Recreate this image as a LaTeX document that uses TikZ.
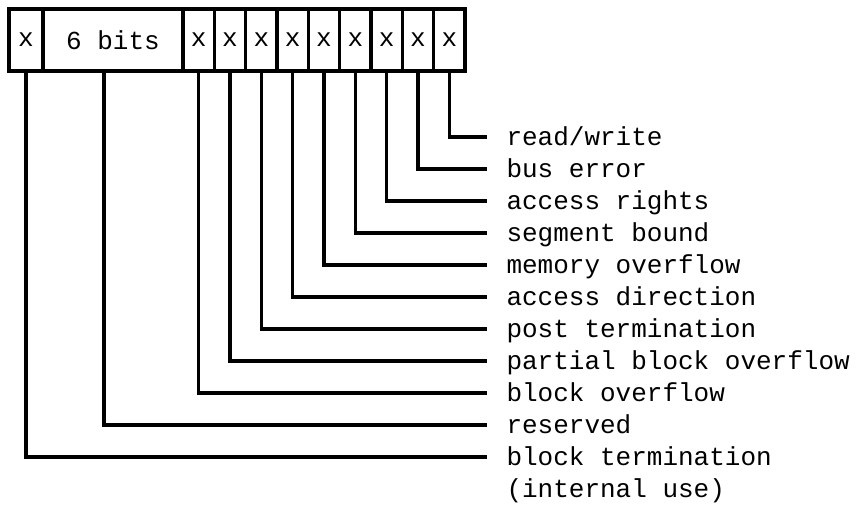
\documentclass[tikz,border=0pt]{standalone}
\usepackage{fontspec}
\setmonofont{Liberation Mono}
\begin{document}
\begin{tikzpicture}[x=0.75pt, y=-0.75pt, line width=2.3pt,
  font=\ttfamily\fontsize{19.5}{23}\selectfont,
  cell/.style={draw, line width=2.3pt, minimum height=46.5pt, inner sep=0pt},
  lbl/.style={anchor=west, inner sep=0pt, text height=14pt, text depth=2pt},
  wire/.style={line width=2.3pt, shorten >=13.5pt}]
  \useasboundingbox (0,0) rectangle (856,504);
  % register: one bit, six reserved bits, nine flag bits
  \node[cell, minimum width=25.5pt] (b0) at (26,40) {x};
  \node[cell, minimum width=105pt] (b6) at (113,40) {6 bits};
  \foreach \i in {1,...,9}
    \node[cell, minimum width=23.5pt] (x\i) at ({183+31.33*(\i-0.5)},40) {x};
  % labels, bottom one first
  \foreach \t [count=\j from 0] in {block termination, reserved, block overflow,
      partial block overflow, post termination, access direction,
      memory overflow, segment bound, access rights, bus error, read/write}
    \node[lbl] (l\j) at (505,{137+32*(10-\j)}) {\t};
  \node[lbl] (l0b) at (505,489) {(internal use)};
  % wires from each field down and across to its label
  \draw[wire] (b0.south) |- (l0.west);
  \draw[wire] ([xshift=-6.75pt]b6.south) |- (l1.west);
  \foreach \i [evaluate=\i as \j using int(\i+1)] in {1,...,9}
    \draw[wire] (x\i.south) |- (l\j.west);
\end{tikzpicture}
\end{document}
